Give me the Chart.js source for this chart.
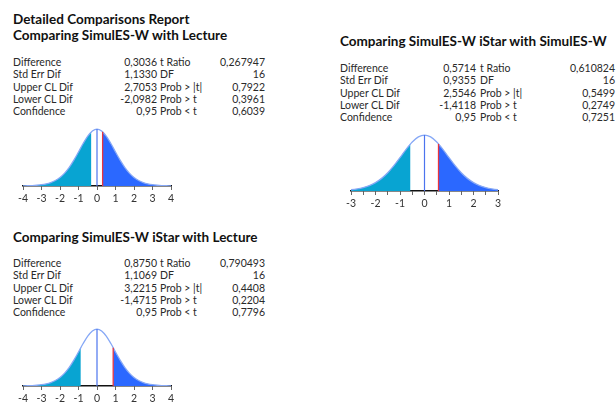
<!DOCTYPE html>
<html lang="en">
<head>
  <meta charset="UTF-8" />
  <title>Detailed Comparisons Report</title>
  <script src="https://cdn.jsdelivr.net/npm/chart.js"></script>
  <style>
    body {
      margin: 0;
      background: #fff;
      width: 616px;
      height: 406px;
      overflow: hidden;
      position: relative;
      font-family: 'Segoe UI', Lato, 'Noto Sans', sans-serif;
      color: #222;
    }
    .title {
      position: absolute;
      font-weight: 700;
      font-size: 13.5px;
      line-height: 16px;
      white-space: nowrap;
      color: #111;
    }
    .stats {
      position: absolute;
      font-size: 10.5px;
      line-height: 12.3px;
      white-space: nowrap;
      color: #2a2a2a;
    }
    .stats span { position: absolute; }
    .num { text-align: right; }
    canvas { position: absolute; }
  </style>
</head>
<body>

<div class="title" style="left:13px; top:11px;">Detailed Comparisons Report</div>

<script>
  // t distribution (DF 16) heights read at these t values
  const tGrid = [-4, -3.75, -3.5, -3.25, -3, -2.75, -2.5, -2.25, -2, -1.75, -1.5, -1.25, -1, -0.75, -0.5, -0.25,
                 0, 0.25, 0.5, 0.75, 1, 1.25, 1.5, 1.75, 2, 2.25, 2.5, 2.75, 3, 3.25, 3.5, 3.75, 4];
  const tDensity = [0.00108, 0.00184, 0.00313, 0.00528, 0.00884, 0.0146, 0.0238, 0.0380, 0.0589, 0.0886, 0.1284, 0.1779, 0.2346, 0.2928, 0.3443, 0.3800,
                    0.3928, 0.3800, 0.3443, 0.2928, 0.2346, 0.1779, 0.1284, 0.0886, 0.0589, 0.0380, 0.0238, 0.0146, 0.00884, 0.00528, 0.00313, 0.00184, 0.00108];

  const statLabels = ['Difference', 'Std Err Dif', 'Upper CL Dif', 'Lower CL Dif', 'Confidence'];
  const testLabels = ['t Ratio', 'DF', 'Prob > |t|', 'Prob > t', 'Prob < t'];

  const titles = [
    'Comparing SimulES-W with Lecture',
    'Comparing SimulES-W iStar with SimulES-W',
    'Comparing SimulES-W iStar with Lecture'
  ];
  const statValues = [
    ['0,3036', '1,1330', '2,7053', '-2,0982', '0,95'],
    ['0,5714', '0,9355', '2,5546', '-1,4118', '0,95'],
    ['0,8750', '1,1069', '3,2215', '-1,4715', '0,95']
  ];
  const testValues = [
    ['0,267947', '16', '0,7922', '0,3961', '0,6039'],
    ['0,610824', '16', '0,5499', '0,2749', '0,7251'],
    ['0,790493', '16', '0,4408', '0,2204', '0,7796']
  ];
  // where the shaded tails start (difference) and curve height there
  const tailStart = [0.3036, 0.5714, 0.8750];
  const tailHeight = [0.3740, 0.3308, 0.2640];
  const axisRange = [[-4, 4], [-3, 3], [-4, 4]];
  const axisStep = [1, 0.5, 1];

  // layout of each panel
  const panels = [
    { left: 13, titleTop: 27, rowsTop: 56, numEnd: 157, testLeft: 160, testEnd: 265,
      canvas: { left: 0, top: 110, w: 195, h: 100, pad: { left: 23, right: 24, top: 18, bottom: 4 } } },
    { left: 340, titleTop: 33, rowsTop: 62, numEnd: 476, testLeft: 480, testEnd: 615,
      canvas: { left: 330, top: 115, w: 190, h: 100, pad: { left: 21, right: 22, top: 19, bottom: 4 } } },
    { left: 13, titleTop: 229, rowsTop: 257, numEnd: 157, testLeft: 160, testEnd: 265,
      canvas: { left: 0, top: 310, w: 195, h: 100, pad: { left: 23, right: 24, top: 18, bottom: 4 } } }
  ];

  const tealFill = '#08a4d2';
  const blueFill = '#2b68ff';

  panels.forEach((p, i) => {
    const t = document.createElement('div');
    t.className = 'title';
    t.style.left = p.left + 'px';
    t.style.top = p.titleTop + 'px';
    t.textContent = titles[i];
    document.body.appendChild(t);

    const s = document.createElement('div');
    s.className = 'stats';
    s.style.left = '0px';
    s.style.top = p.rowsTop + 'px';
    statLabels.forEach((lab, r) => {
      const top = (r * 12.3) + 'px';
      s.insertAdjacentHTML('beforeend',
        `<span style="left:${p.left}px;top:${top}">${lab}</span>` +
        `<span class="num" style="right:${616 - p.numEnd}px;top:${top}">${statValues[i][r]}</span>` +
        `<span style="left:${p.testLeft}px;top:${top}">${testLabels[r].replace('<', '&lt;').replace('>', '&gt;')}</span>` +
        `<span class="num" style="right:${616 - p.testEnd}px;top:${top}">${testValues[i][r]}</span>`);
    });
    s.style.width = '616px';
    document.body.appendChild(s);

    const c = document.createElement('canvas');
    c.width = p.canvas.w;
    c.height = p.canvas.h;
    c.style.left = p.canvas.left + 'px';
    c.style.top = p.canvas.top + 'px';
    document.body.appendChild(c);

    const b = tailStart[i];
    const curve = tGrid.map((x, k) => ({ x, y: tDensity[k] }));
    const left = curve.filter(pt => pt.x < -b).concat([{ x: -b, y: tailHeight[i] }]);
    const right = [{ x: b, y: tailHeight[i] }].concat(curve.filter(pt => pt.x > b));
    const peak = tDensity[tGrid.indexOf(0)];

    new Chart(c.getContext('2d'), {
      type: 'line',
      data: {
        datasets: [
          { data: curve, borderColor: '#86a8f6', borderWidth: 1.3, fill: false, order: 1 },
          { data: left, borderWidth: 0, backgroundColor: tealFill, fill: 'origin', order: 2 },
          { data: right, borderWidth: 0, backgroundColor: blueFill, fill: 'origin', order: 2 },
          { data: [{ x: 0, y: 0 }, { x: 0, y: peak }], borderColor: '#4b74ee', borderWidth: 1.2, tension: 0, order: 0 },
          { data: [{ x: b, y: 0 }, { x: b, y: tailHeight[i] }], borderColor: '#e8343f', borderWidth: 1.3, tension: 0, order: 0 }
        ]
      },
      options: {
        responsive: false,
        animation: false,
        devicePixelRatio: 1,
        layout: { padding: p.canvas.pad },
        elements: {
          point: { radius: 0 },
          line: { cubicInterpolationMode: 'monotone' }
        },
        plugins: { legend: { display: false }, tooltip: { enabled: false } },
        scales: {
          x: {
            type: 'linear',
            min: axisRange[i][0],
            max: axisRange[i][1],
            afterFit: sc => { sc.height = 20; },
            border: { display: true, color: '#111', width: 1.5 },
            grid: { drawOnChartArea: false, drawTicks: true, tickLength: 4, color: '#666' },
            ticks: {
              stepSize: axisStep[i],
              autoSkip: false,
              maxRotation: 0,
              padding: 2,
              color: '#333',
              font: { family: "'Segoe UI', Lato, 'Noto Sans', sans-serif", size: 10.5 },
              callback: v => Number.isInteger(v) ? String(v) : ''
            }
          },
          y: { display: false, min: 0, max: 0.40 }
        }
      }
    });
  });
</script>
</body>
</html>
